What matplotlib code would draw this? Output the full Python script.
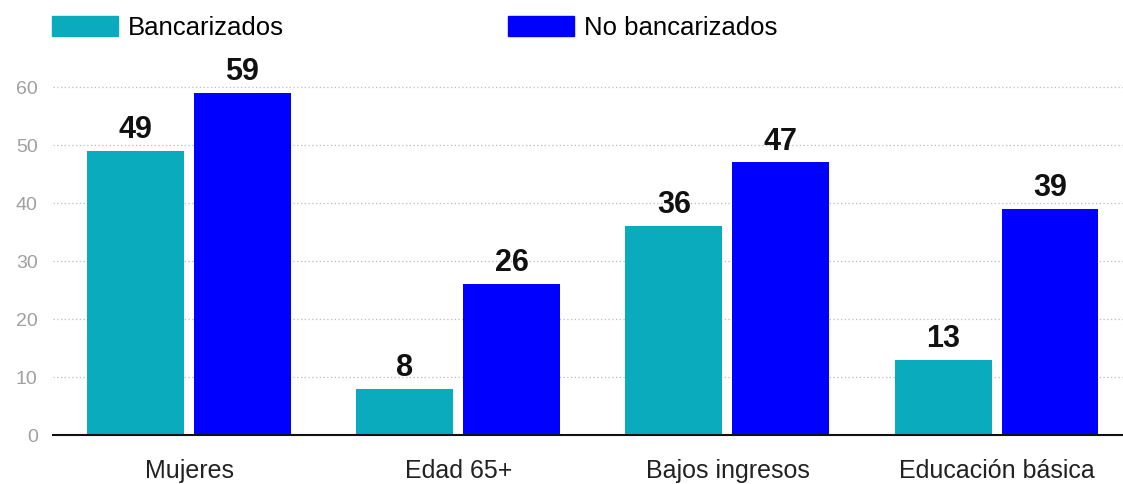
import numpy as np
import matplotlib.pyplot as plt
from matplotlib.patches import Patch

plt.rcParams['font.family'] = ['Liberation Sans', 'DejaVu Sans']

categories = ['Mujeres', 'Edad 65+', 'Bajos ingresos', 'Educación básica']
bancarizados = [49, 8, 36, 13]
no_bancarizados = [59, 26, 47, 39]
series_names = ['Bancarizados', 'No bancarizados']
colors = ['#0aabbd', '#0000ff']

fig = plt.figure(figsize=(11.23, 4.84), dpi=100)
ax = fig.add_axes([53 / 1123, 49 / 484, 1 - 53 / 1123, (435 - 29) / 484])

x = np.arange(len(categories))
w = 0.36
b1 = ax.bar(x - 0.2, bancarizados, w, color=colors[0])
b2 = ax.bar(x + 0.197, no_bancarizados, w, color=colors[1])

# value labels above bars
for bars, vals in [(b1, bancarizados), (b2, no_bancarizados)]:
    for r, v in zip(bars, vals):
        ax.text(r.get_x() + r.get_width() / 2, v + 1.0, str(v), ha='center', va='bottom',
                fontsize=22, fontweight='bold', color='#111111')

ax.set_xlim(-0.506, 3.468)
ax.set_ylim(0, 70)
ax.set_yticks([0, 10, 20, 30, 40, 50, 60])
ax.yaxis.grid(True, linestyle=(0, (1, 2)), color='#bbbbbb', linewidth=0.9)
ax.set_axisbelow(True)
for s in ['top', 'right', 'left']:
    ax.spines[s].set_visible(False)
ax.spines['bottom'].set_linewidth(1.5)
ax.spines['bottom'].set_color('#111111')
ax.tick_params(axis='y', length=0, labelsize=14, labelcolor='#a0a0a0', pad=11)
ax.tick_params(axis='x', length=0, labelsize=18, labelcolor='#222222', pad=17)
ax.set_xticks(x)
ax.set_xticklabels(categories)

handles = [Patch(color=c) for c in colors]
leg_kw = dict(loc='center left', frameon=False, fontsize=18.5, handlelength=2.57,
              handleheight=0.78, handletextpad=0.39, borderpad=0, borderaxespad=0)
fig.legend(handles[:1], series_names[:1], bbox_to_anchor=(52 / 1123, 1 - 28 / 484), **leg_kw)
fig.legend(handles[1:], series_names[1:], bbox_to_anchor=(508 / 1123, 1 - 28 / 484), **leg_kw)

fig.savefig('out.png', dpi=100)
